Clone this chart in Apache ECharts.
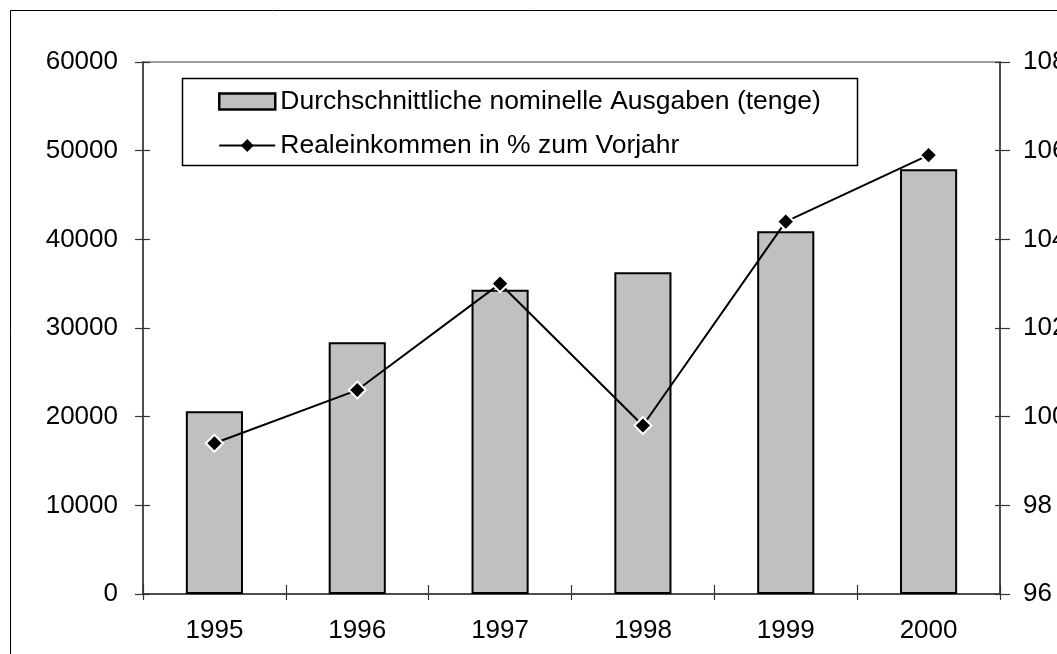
<!DOCTYPE html>
<html>
<head>
<meta charset="utf-8">
<script src="https://cdn.jsdelivr.net/npm/echarts@6/dist/echarts.min.js"></script>
<style>
html,body{margin:0;padding:0;background:#fff;}
#chart{width:1057px;height:654px;}
</style>
</head>
<body>
<div id="chart"></div>
<script>
const years = ['1995','1996','1997','1998','1999','2000'];
const ausgaben = [20600, 28400, 34300, 36300, 40900, 47900];
const realeinkommen = [99.4, 100.6, 103.0, 99.8, 104.4, 105.9];
const barName = 'Durchschnittliche nominelle Ausgaben (tenge)';
const lineName = 'Realeinkommen in % zum Vorjahr';

const FONT = 'Liberation Sans, Arial, sans-serif';
const FS = 26;
const axisColor = '#333';
const plain = v => String(v);

const gridBox = {left: 143, right: 57, top: 62, bottom: 60, outerBoundsMode: 'none', containLabel: false};

const chart = echarts.init(document.getElementById('chart'), null, {renderer:'canvas'});
chart.setOption({
  animation: false,
  backgroundColor: '#fff',
  textStyle: {fontFamily: FONT},
  grid: [
    Object.assign({show: true, borderColor: '#808080', borderWidth: 1.5, backgroundColor: 'transparent'}, gridBox),
    Object.assign({show: false}, gridBox)
  ],
  graphic: [
    {type: 'rect', shape: {x: 10.5, y: 10.5, width: 1200, height: 800}, style: {fill: 'none', stroke: '#000', lineWidth: 1}, silent: true, z: 0},
    {type: 'rect', shape: {x: 182.5, y: 78.5, width: 675, height: 87}, style: {fill: '#fff', stroke: '#000', lineWidth: 1.5}, silent: true, z: 5}
  ],
  legend: {
    orient: 'vertical', left: 218, top: 88, padding: 0, itemGap: 17,
    itemWidth: 56, itemHeight: 16, z: 10,
    textStyle: {fontFamily: FONT, fontSize: 26.5, color: '#000', lineHeight: 27},
    data: [
      {name: barName, icon: 'rect', itemStyle: {borderWidth: 2.5}},
      {name: lineName, itemStyle: {borderWidth: 0}}
    ]
  },
  xAxis: [
    {type: 'category', data: years, gridIndex: 0, position: 'bottom',
     axisLine: {lineStyle: {color: axisColor, width: 1.5}},
     axisTick: {show: true, length: 6, lineStyle: {color: axisColor, width: 1.2}},
     axisLabel: {fontFamily: FONT, fontSize: FS, color: '#000', margin: 24},
     splitLine: {show: false}},
    {type: 'category', data: years, gridIndex: 1, position: 'bottom',
     axisLine: {show: false},
     axisTick: {show: true, inside: true, length: 9, lineStyle: {color: axisColor, width: 1.2}},
     axisLabel: {show: false}, splitLine: {show: false}}
  ],
  yAxis: [
    {type: 'value', gridIndex: 0, position: 'left', min: 0, max: 60000, interval: 10000,
     axisLine: {show: true, lineStyle: {color: axisColor, width: 1.5}},
     axisTick: {show: true, length: 8, lineStyle: {color: axisColor, width: 1.2}},
     axisLabel: {fontFamily: FONT, fontSize: FS, color: '#000', margin: 25, formatter: plain},
     splitLine: {show: false}},
    {type: 'value', gridIndex: 0, position: 'right', min: 96, max: 108, interval: 2,
     axisLine: {show: true, lineStyle: {color: axisColor, width: 1.5}},
     axisTick: {show: true, length: 10, lineStyle: {color: axisColor, width: 1.2}},
     axisLabel: {fontFamily: FONT, fontSize: FS, color: '#000', margin: 23, formatter: plain},
     splitLine: {show: false}},
    {type: 'value', gridIndex: 1, position: 'left', min: 0, max: 60000, interval: 10000,
     axisLine: {show: false},
     axisTick: {show: true, inside: true, length: 7, lineStyle: {color: axisColor, width: 1.2}},
     axisLabel: {show: false}, splitLine: {show: false}},
    {type: 'value', gridIndex: 1, position: 'right', min: 96, max: 108, interval: 2,
     axisLine: {show: false},
     axisTick: {show: true, inside: true, length: 5, lineStyle: {color: axisColor, width: 1.2}},
     axisLabel: {show: false}, splitLine: {show: false}}
  ],
  series: [
    {name: barName, type: 'bar', data: ausgaben, xAxisIndex: 0, yAxisIndex: 0,
     barWidth: '40%',
     itemStyle: {color: '#c0c0c0', borderColor: '#000', borderWidth: 2}},
    {name: lineName, type: 'line', data: realeinkommen, xAxisIndex: 0, yAxisIndex: 1,
     symbol: 'diamond', symbolSize: 17, z: 3,
     lineStyle: {color: '#000', width: 2},
     itemStyle: {color: '#000', borderColor: '#fff', borderWidth: 2}}
  ]
});
</script>
</body>
</html>
